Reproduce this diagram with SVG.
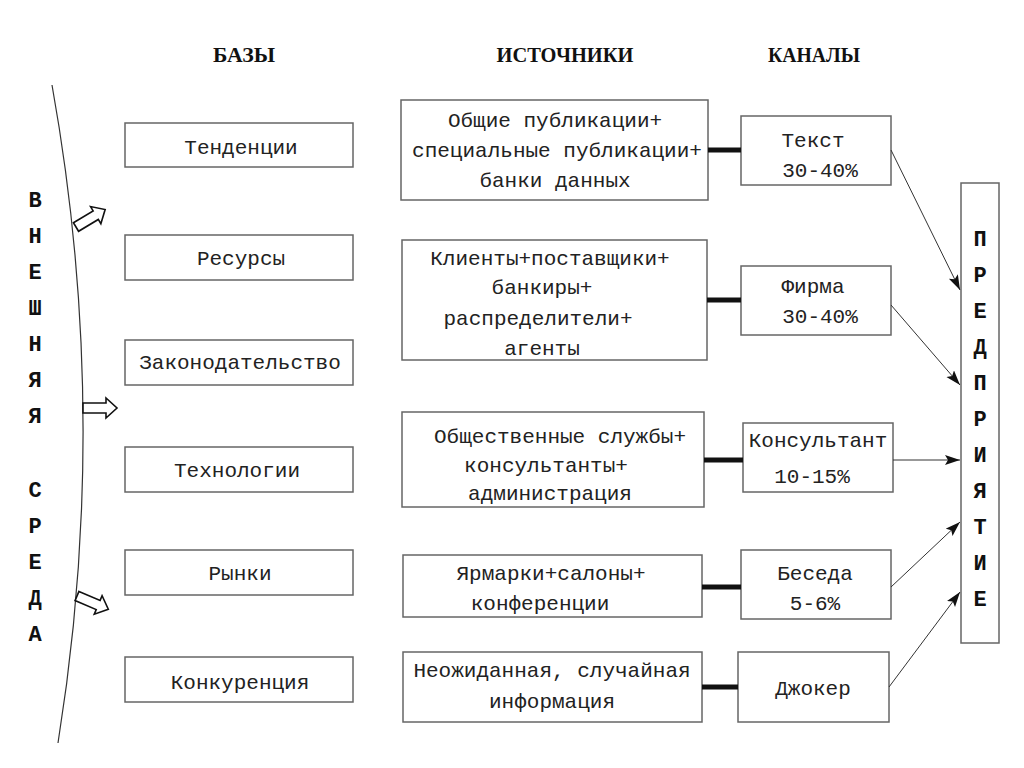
<svg xmlns="http://www.w3.org/2000/svg" width="1024" height="768" viewBox="0 0 1024 768">
<defs>
<style>
.box{fill:#fff;stroke:#666;stroke-width:1.5}
.t{font-family:"Liberation Mono","Courier New",monospace;font-size:21px;fill:#222;text-anchor:middle}
.h{font-family:"Liberation Serif",serif;font-weight:bold;font-size:22px;fill:#111;text-anchor:middle}
.v{font-family:"Liberation Mono","Courier New",monospace;font-weight:bold;font-size:22px;fill:#111;text-anchor:middle}
.thick{stroke:#111;stroke-width:5;fill:none}
.thin{stroke:#333;stroke-width:1;fill:none;marker-end:url(#ah)}
.blk{fill:#fff;stroke:#111;stroke-width:1.6;stroke-linejoin:miter}
</style>
<marker id="ah" markerUnits="userSpaceOnUse" markerWidth="16" markerHeight="12" refX="15" refY="5" orient="auto">
<path d="M0,0 L15,5 L0,10 L3,5 Z" fill="#111"/>
</marker>
<path id="barrow" d="M0,-5 L23,-5 L23,-10 L34,0 L23,10 L23,5 L0,5 Z"/>
</defs>
<rect width="1024" height="768" fill="#fff"/>

<g id="headers">
<text class="h" x="244" y="62" textLength="62" lengthAdjust="spacingAndGlyphs">БАЗЫ</text>
<text class="h" x="565" y="62" textLength="137" lengthAdjust="spacingAndGlyphs">ИСТОЧНИКИ</text>
<text class="h" x="814" y="62" textLength="92" lengthAdjust="spacingAndGlyphs">КАНАЛЫ</text>
</g>

<g id="environment">
<path d="M52,85 Q111,414 58,743" fill="none" stroke="#333" stroke-width="1.2"/>
<use href="#barrow" class="blk" transform="translate(76,227) rotate(-31)"/>
<use href="#barrow" class="blk" transform="translate(83,408)"/>
<use href="#barrow" class="blk" transform="translate(77,596) rotate(23)"/>
<g class="v">
<text x="35" y="207">В</text>
<text x="35" y="243">Н</text>
<text x="35" y="279">Е</text>
<text x="35" y="315">Ш</text>
<text x="35" y="351">Н</text>
<text x="35" y="387">Я</text>
<text x="35" y="423">Я</text>
<text x="35" y="497">С</text>
<text x="35" y="533">Р</text>
<text x="35" y="569">Е</text>
<text x="35" y="605">Д</text>
<text x="35" y="641">А</text>
</g>
</g>

<g id="base-tendencies"><rect class="box" x="125" y="123" width="228" height="44"/><text class="t" x="241" y="154">Тенденции</text></g>
<g id="base-resources"><rect class="box" x="125" y="235" width="228" height="45"/><text class="t" x="241" y="265">Ресурсы</text></g>
<g id="base-law"><rect class="box" x="125" y="340" width="228" height="45"/><text class="t" x="240" y="369">Законодательство</text></g>
<g id="base-tech"><rect class="box" x="125" y="447" width="228" height="45"/><text class="t" x="237" y="477">Технологии</text></g>
<g id="base-markets"><rect class="box" x="125" y="550" width="228" height="45"/><text class="t" x="240" y="580">Рынки</text></g>
<g id="base-competition"><rect class="box" x="125" y="657" width="228" height="45"/><text class="t" x="240" y="689">Конкуренция</text></g>

<g id="src-publications"><rect class="box" x="401" y="100" width="307" height="100"/>
<text class="t" x="555" y="127">Общие публикации+</text>
<text class="t" x="557" y="157">специальные публикации+</text>
<text class="t" x="555" y="187">банки данных</text></g>
<g id="src-clients"><rect class="box" x="402" y="240" width="305" height="120"/>
<text class="t" x="550" y="265">Клиенты+поставщики+</text>
<text class="t" x="542" y="294">банкиры+</text>
<text class="t" x="538" y="325">распределители+</text>
<text class="t" x="542" y="355">агенты</text></g>
<g id="src-public"><rect class="box" x="402" y="412" width="302" height="95"/>
<text class="t" x="560" y="443">Общественные службы+</text>
<text class="t" x="546" y="472">консультанты+</text>
<text class="t" x="550" y="500">администрация</text></g>
<g id="src-fairs"><rect class="box" x="403" y="555" width="299" height="62"/>
<text class="t" x="551" y="580">Ярмарки+салоны+</text>
<text class="t" x="540" y="610">конференции</text></g>
<g id="src-random"><rect class="box" x="403" y="652" width="299" height="70"/>
<text class="t" x="552" y="677">Неожиданная, случайная</text>
<text class="t" x="552" y="708">информация</text></g>

<g id="ch-text"><rect class="box" x="741" y="116" width="150" height="69"/>
<text class="t" x="813" y="147">Текст</text><text class="t" x="820" y="177">30-40%</text></g>
<g id="ch-firm"><rect class="box" x="741" y="266" width="150" height="69"/>
<text class="t" x="813" y="293">Фирма</text><text class="t" x="820" y="323">30-40%</text></g>
<g id="ch-consultant"><rect class="box" x="743" y="423" width="150" height="69"/>
<text class="t" x="818" y="447">Консультант</text><text class="t" x="812" y="483">10-15%</text></g>
<g id="ch-talk"><rect class="box" x="741" y="550" width="150" height="69"/>
<text class="t" x="815" y="580">Беседа</text><text class="t" x="815" y="610">5-6%</text></g>
<g id="ch-joker"><rect class="box" x="738" y="652" width="151" height="70"/>
<text class="t" x="813" y="695">Джокер</text></g>

<g id="enterprise"><rect class="box" x="961" y="183" width="38" height="460"/>
<g class="v">
<text x="980" y="246">П</text>
<text x="980" y="282">Р</text>
<text x="980" y="318">Е</text>
<text x="980" y="354">Д</text>
<text x="980" y="390">П</text>
<text x="980" y="426">Р</text>
<text x="980" y="462">И</text>
<text x="980" y="498">Я</text>
<text x="980" y="534">Т</text>
<text x="980" y="570">И</text>
<text x="980" y="606">Е</text>
</g></g>

<g id="connectors">
<line class="thick" x1="708" y1="150" x2="741" y2="150"/>
<line class="thick" x1="707" y1="300" x2="741" y2="300"/>
<line class="thick" x1="704" y1="460" x2="743" y2="460"/>
<line class="thick" x1="702" y1="587" x2="741" y2="587"/>
<line class="thick" x1="702" y1="687" x2="738" y2="687"/>
<line class="thin" x1="891" y1="150" x2="960" y2="290"/>
<line class="thin" x1="891" y1="305" x2="960" y2="385"/>
<line class="thin" x1="893" y1="460" x2="960" y2="460"/>
<line class="thin" x1="891" y1="587" x2="960" y2="522"/>
<line class="thin" x1="889" y1="687" x2="960" y2="592"/>
</g>
</svg>
